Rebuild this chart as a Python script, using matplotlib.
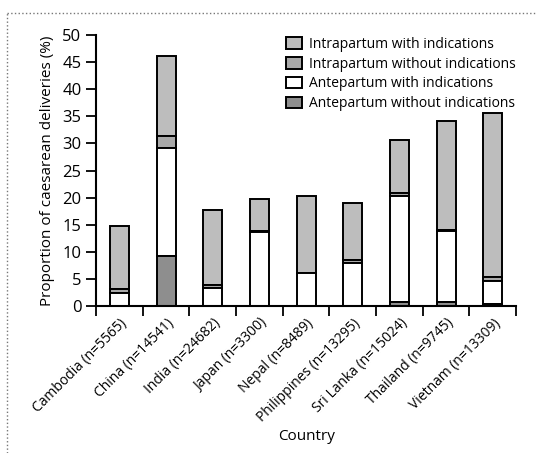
import matplotlib
matplotlib.use("Agg")
import matplotlib.pyplot as plt
import numpy as np

plt.rcParams['font.family'] = ['Open Sans', 'DejaVu Sans']

countries = ["Cambodia (n=5565)", "China (n=14541)", "India (n=24682)", "Japan (n=3300)",
             "Nepal (n=8489)", "Philippines (n=13295)", "Sri Lanka (n=15024)",
             "Thailand (n=9745)", "Vietnam (n=13309)"]
ante_without = [0.0, 9.3, 0.0, 0.0, 0.0, 0.0, 0.8, 0.8, 0.4]
ante_with = [2.4, 19.8, 3.3, 13.7, 6.0, 7.9, 19.5, 13.1, 4.2]
intra_without = [0.7, 2.2, 0.6, 0.2, 0.1, 0.5, 0.5, 0.1, 0.8]
intra_with = [11.6, 14.8, 13.8, 5.9, 14.2, 10.7, 9.9, 20.2, 30.3]

fig = plt.figure(figsize=(5.37, 4.53), dpi=100)
ax = fig.add_axes([0.179, 0.3245, 0.782, 0.598])

x = np.arange(len(countries))
w = 0.41
ew = 1.4
b1 = np.array(ante_without)
b2 = b1 + np.array(ante_with)
b3 = b2 + np.array(intra_without)

# order from top of legend to bottom
ax.bar(x, intra_with, w, bottom=b3, color='#bdbdbd', edgecolor='black', linewidth=ew,
       label='Intrapartum with indications')
ax.bar(x, intra_without, w, bottom=b2, color='#a9a9a9', edgecolor='black', linewidth=ew,
       label='Intrapartum without indications')
ax.bar(x, ante_with, w, bottom=b1, color='white', edgecolor='black', linewidth=ew,
       label='Antepartum with indications')
ax.bar(x, ante_without, w, color='#8e8e8e', edgecolor='black', linewidth=ew,
       label='Antepartum without indications')

ax.set_xlim(-0.5, len(countries) - 0.5)
ax.set_ylim(0, 50)
ax.set_yticks(np.arange(0, 51, 5))
ax.set_xticks(x)
ax.set_xticklabels(countries, rotation=45, ha='right', rotation_mode='anchor', fontsize=10)
ax.set_xticks(np.arange(-0.5, len(countries), 1), minor=True)
ax.tick_params(axis='x', which='major', length=0, pad=7)
ax.tick_params(axis='x', which='minor', length=7, width=1.3, direction='out')
ax.tick_params(axis='y', length=7, width=1.3, labelsize=12)
for s in ['top', 'right']:
    ax.spines[s].set_visible(False)
for s in ['left', 'bottom']:
    ax.spines[s].set_linewidth(1.5)

ax.set_ylabel("Proportion of caesarean deliveries (%)", fontsize=11, labelpad=5)
ax.set_xlabel("Country", fontsize=11, labelpad=3)

ax.legend(loc='upper right', bbox_to_anchor=(1.03, 1.04), frameon=False, fontsize=10,
          handlelength=1.2, handleheight=0.9, handletextpad=0.5, labelspacing=0.35)

# dotted frame around figure
fig.add_artist(plt.Line2D([0.013, 1.0], [0.971, 0.971], transform=fig.transFigure,
                          color='#777777', linestyle=':', linewidth=1))
fig.add_artist(plt.Line2D([0.013, 0.013], [0.0, 0.971], transform=fig.transFigure,
                          color='#777777', linestyle=':', linewidth=1))

fig.savefig("out.png", dpi=100)
